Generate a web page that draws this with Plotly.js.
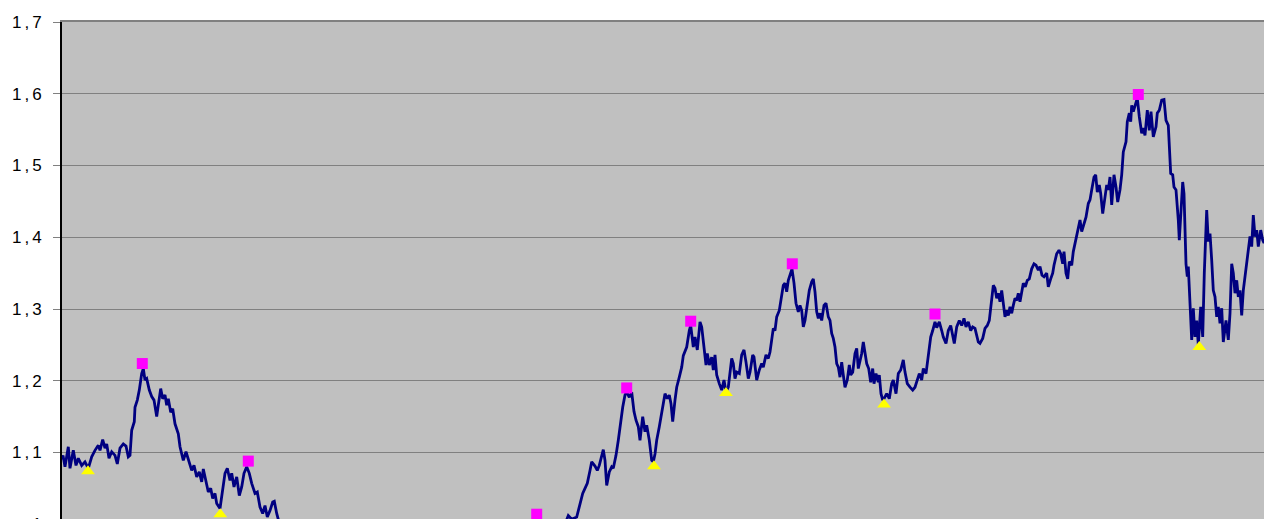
<!DOCTYPE html>
<html>
<head>
<meta charset="utf-8">
<script src="https://cdn.plot.ly/plotly-3.0.1.min.js"></script>
<style>
html,body{margin:0;padding:0;background:#fff;overflow:hidden;width:1264px;height:519px;}
#chart{width:1264px;height:620px;}
#chart .ytick text{letter-spacing:3px;}
</style>
</head>
<body>
<div id="chart"></div>
<script>
const t = [0,1,3,6.3,8,11.3,14,16.3,19.7,23,26.3,29.7,33,36.3,38,40.7,43,44.7,47,49.7,53,55.3,58,61.3,64,66.3,68,69.7,72.3,73,75.3,77.3,79.7,81.3,83,84.7,87.3,89.7,92,94.7,96.3,98.7,100.7,103,104.7,106.3,108.7,110.7,113,116.3,118,121.3,124,126.3,129.7,132,134.7,137.3,139.7,141.3,143.7,146.3,148.7,150.7,153,154.7,158,160.7,163,165.3,168,169.7,172,174.7,177.3,179.7,182,184.7,187.3,189.7,193,195.3,198,200.7,203,205.3,208,210.7,212.3,214.7,
218,225,235,250,265,280,300,320,340,360,380,400,420,440,460,474.7,488,500,
506.3,509.7,514.7,518,520.7,523,525.3,528,529.7,533,535.3,537.3,539.7,541.3,543,544.7,547.3,549.7,551.3,554,556.3,558.7,560.7,563,564.7,567.3,569.7,572,574,576.3,578,580.7,583,584.7,587.3,589.7,591.3,593,594.7,597.3,599.7,601.3,603,605.3,607.3,609,610.7,613,614.7,617.3,619.7,
621.3,624.7,627.3,628.7,631.3,633,635.3,638,639.7,642,644,645.3,647.3,649.7,651.3,653,654.7,657.3,659.7,662,664,666.3,668,669.7,671.3,673,674.7,677.3,679.7,682,684,686.3,688,690.7,692,694.7,697.3,699.7,701.3,704,706.3,708,709.7,711.3,713,714.7,717.3,719.7,721.3,723,724.7,726.3,728.7,730,732,734,736.3,738,739.7,741.3,743,745.3,747.3,749.7,751.3,753,754.7,756.3,758,759.7,762,764,766.3,768,769.7,771.3,773,774.7,776.3,778,779.7,781.3,783,785.3,787.3,788.7,790.7,793,794.7,796.3,798,799.7,801.3,803,804.7,806.7,808.7,810.7,812,814,816.3,817.3,819,820.7,822,
824.7,827.3,829.7,831.3,834,836.3,838.7,841.3,843,845.3,848,850.7,853,855.3,857.3,859.7,861.3,864,866.3,868.7,870.7,873,874.7,877.3,879.7,881.3,884,886.3,888.7,890.7,892.3,894.7,897.3,899.7,902,904,906.3,908.7,910.7,913,914.7,916.3,918,920.7,923,925.3,927.3,929.7,931.3,933,934.7,936.3,938,939.7,941.3,943,944.7,946.3,948,949.7,951.3,953,954.7,956.3,958,959.7,961.3,963.3,965.3,967.3,969.7,972,974,976.3,978,980,982,984.7,986.3,988.7,990.7,992,994.7,997,998.7,1000.7,1002,1004,1005.7,1007.3,1009.7,1011.3,1013,
1016.3,1018,1019.7,1022,1024,1026.3,1028,1029.7,1032,1033.7,1035.3,1037.3,1038.7,1040.7,1043,1044.7,1046.3,1048,1049.7,1052,1054,1055.7,1058,1059.7,1061.3,1064,1065.3,1067.3,1068.7,1069.7,1071.3,1073,1075.3,1077.3,1079.7,1081.3,1083,1085.3,1087.3,1089,1091.3,1094,1095.3,1097.3,1099.7,1102,1104,1106.3,1107.3,1108.7,1110.7,1112,1114,1115.3,1116.3,1117.3,1118.7,1120.7,1122,1123,1124,1125.3,1126.3,1128,1129.7,1131.3,1133,1134.7,1136.3,1138.7,1140.7,1142.3,1144.7,1146.3,1148,1149.7,1151.3,1153,1154.7,1156.3,1158,1159.7,1161.3,1164,1166.3,1168,1169.7,1171.3,1173,1174.7,1176.3,1178,1179.7,1181.3,1183,1184.7,1186.3,1188,1189.7,1191.3,1193,1194.7,1196.3,1198.7,1200.7,1202,1205];

const rate = [1.090,1.096,1.080,1.108,1.078,1.103,1.082,1.092,1.082,1.087,1.078,1.094,1.103,1.110,1.103,1.118,1.106,1.112,1.092,1.101,1.096,1.084,1.106,1.112,1.109,1.094,1.096,1.131,1.143,1.163,1.173,1.187,1.210,1.217,1.201,1.203,1.187,1.178,1.173,1.150,1.166,1.189,1.175,1.180,1.166,1.175,1.156,1.161,1.140,1.126,1.108,1.089,1.101,1.089,1.075,1.082,1.066,1.073,1.059,1.077,1.061,1.045,1.050,1.036,1.043,1.029,1.022,1.047,1.071,1.078,1.061,1.071,1.052,1.066,1.040,1.052,1.071,1.080,1.071,1.057,1.043,1.045,1.024,1.015,1.026,1.010,1.019,1.031,1.032,1.015,
0.998,0.985,0.972,0.962,0.955,0.943,0.932,0.938,0.926,0.941,0.952,0.963,0.978,0.986,0.989,0.997,0.984,0.990,
1.012,1.007,1.010,1.029,1.043,1.050,1.057,1.075,1.087,1.081,1.075,1.082,1.094,1.104,1.089,1.054,1.073,1.080,1.078,1.096,1.117,1.145,1.163,1.180,1.184,1.177,1.184,1.157,1.145,1.136,1.117,1.150,1.129,1.138,1.117,1.089,1.087,1.098,1.117,1.136,1.154,1.171,1.182,1.175,1.180,1.168,1.143,1.173,1.191,1.205,1.219,
1.235,1.247,1.270,1.277,1.247,1.261,1.243,1.282,1.275,1.245,1.222,1.238,1.222,1.233,1.215,1.236,1.208,1.196,1.187,1.201,1.184,1.191,1.210,1.231,1.224,1.203,1.212,1.210,1.236,1.243,1.226,1.203,1.212,1.236,1.233,1.201,1.215,1.224,1.219,1.236,1.231,1.240,1.257,1.273,1.270,1.289,1.298,1.322,1.333,1.336,1.324,1.340,1.352,1.356,1.336,1.308,1.296,1.305,1.298,1.275,1.284,1.310,1.326,1.338,1.342,1.324,1.296,1.287,1.294,1.284,1.305,1.308,1.289,1.284,1.266,1.259,1.247,1.224,1.219,1.205,1.226,1.208,1.191,1.201,1.222,1.208,1.212,1.238,1.245,1.217,1.226,1.238,1.254,1.238,1.224,1.217,1.198,1.217,1.196,1.210,1.198,1.208,1.182,1.173,1.175,
1.182,1.175,1.196,1.201,1.182,1.210,1.215,1.229,1.212,1.196,1.191,1.187,1.191,1.201,1.210,1.201,1.217,1.210,1.236,1.261,1.270,1.282,1.274,1.282,1.270,1.261,1.252,1.270,1.277,1.263,1.252,1.275,1.284,1.277,1.287,1.275,1.282,1.270,1.275,1.273,1.263,1.254,1.252,1.259,1.273,1.277,1.284,1.310,1.333,1.329,1.315,1.322,1.310,1.326,1.303,1.289,1.298,1.291,1.303,1.294,1.305,1.315,1.312,1.322,1.310,1.322,1.336,1.331,1.340,1.342,1.356,1.363,1.361,1.354,1.359,1.347,1.345,1.350,1.331,1.342,1.350,1.361,1.377,1.382,1.377,1.363,1.380,1.350,1.342,1.366,1.361,1.380,1.391,
1.415,1.424,1.408,1.419,1.428,1.447,1.452,1.466,1.484,1.487,1.463,1.473,1.461,1.433,1.456,1.473,1.466,1.484,1.445,1.487,1.470,1.449,1.466,1.487,1.519,1.533,1.561,1.573,1.561,1.584,1.575,1.582,1.594,1.568,1.545,1.552,1.542,1.577,1.549,1.575,1.540,1.554,1.573,1.577,1.591,1.592,1.563,1.556,1.526,1.489,1.487,1.470,1.466,1.447,1.424,1.396,1.428,1.477,1.461,1.401,1.363,1.345,1.359,1.308,1.257,1.301,1.261,1.284,1.250,1.303,1.261,1.350,1.438,1.394,1.405,1.368,1.326,1.317,1.289,1.303,1.280,1.301,1.254,1.284,1.257,1.294,1.363,1.350,1.322,1.340,1.317,1.326,1.291,1.326,1.345,1.363,1.377,1.401,1.387,1.431,1.401,1.410,1.387,1.410,1.396,1.392,1.400];

// local highs (magenta squares) and lows (yellow triangles)
const peakT = [80.3,186.3,474.7,564.7,628.7,730.3,873,1076.3];
const peakV = [1.224,1.088,1.014,1.190,1.283,1.363,1.293,1.599];
const troughT = [26,158.3,592,664,822,1137.3];
const troughV = [1.074,1.014,1.081,1.183,1.167,1.247];

const traces = [
  {x:t, y:rate, type:'scatter', mode:'lines', line:{color:'#000080', width:2.8}, hoverinfo:'skip'},
  {x:peakT, y:peakV, type:'scatter', mode:'markers', marker:{symbol:'square', size:11, color:'#FF00FF', line:{width:0}}},
  {x:troughT, y:troughV, type:'scatter', mode:'markers', marker:{symbol:'triangle-up', size:12, color:'#FFFF00', line:{width:0}}}
];

const layout = {
  width:1264, height:620,
  margin:{l:62, r:0, t:22, b:24},
  paper_bgcolor:'#ffffff',
  plot_bgcolor:'#C0C0C0',
  showlegend:false,
  separators:', ',
  xaxis:{range:[0,1202], showgrid:false, zeroline:false, showticklabels:false, ticks:'',
         showline:true, mirror:true, linecolor:'#808080', linewidth:2},
  yaxis:{range:[0.9,1.7], dtick:0.1, tick0:0, showgrid:true, gridcolor:'#808080', gridwidth:1,
         zeroline:false, showline:true, linecolor:'#000000', linewidth:2,
         ticks:'outside', ticklen:7, tickcolor:'#808080', tickwidth:1, ticklabelstandoff:5,
         tickfont:{family:'"Liberation Sans", Arial, sans-serif', size:17, color:'#000000'}}
};

Plotly.newPlot('chart', traces, layout, {staticPlot:true, displayModeBar:false});
</script>
</body>
</html>
